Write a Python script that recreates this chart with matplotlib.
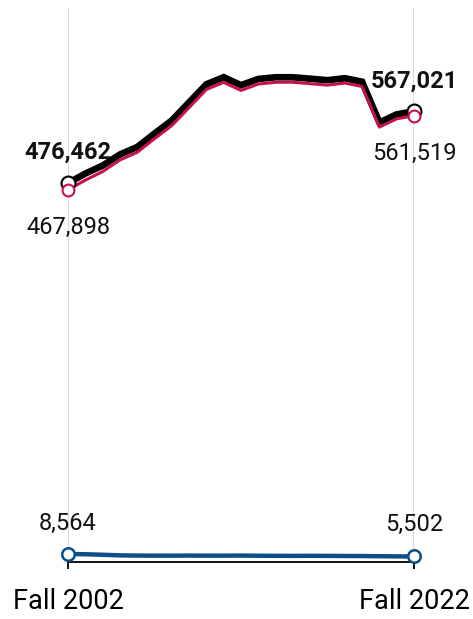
import matplotlib
matplotlib.use("Agg")
import matplotlib.pyplot as plt
import matplotlib.patheffects as pe

# data
years = list(range(2002, 2023))
total = [476462, 488500, 498600, 512600, 522000, 539000, 555600, 578400,
         601200, 610100, 600000, 607900, 610000, 610000, 608200, 606300,
         608800, 604400, 553000, 563200, 567021]
blue_vals = [8564, 8300, 7600, 6900, 6600, 6500, 6500, 6600, 6500, 6500,
             6600, 6400, 6300, 6200, 6300, 6200, 6100, 6000, 5800, 5600, 5502]
crimson_vals = [t - b for t, b in zip(total, blue_vals)]

tick_years = [2002, 2022]
tick_labels = ["Fall 2002", "Fall 2022"]

BLACK = "#000000"
CRIMSON = "#c8104c"
BLUE = "#0b4f86"

plt.rcParams['font.family'] = ['Roboto', 'DejaVu Sans']

fig = plt.figure(figsize=(4.73, 6.19), dpi=100)
ax = fig.add_axes([68 / 473, 1 - 562 / 619, (414 - 68) / 473, (562 - 8) / 619])

ax.set_xlim(2002, 2022)
ax.set_ylim(-1500, 697400)

for s in ["top", "left", "right"]:
    ax.spines[s].set_visible(False)
ax.spines["bottom"].set_linewidth(1.3)
ax.spines["bottom"].set_zorder(2)

ax.set_yticks([])
ax.set_xticks(tick_years)
ax.set_xticklabels(tick_labels, fontsize=19.5)
ax.tick_params(axis="x", length=5, width=1.3, pad=14)
ax.grid(axis="x", color="#d9d9d9", linewidth=1.6, zorder=0)

halo = [pe.Stroke(linewidth=5, foreground="white"), pe.Normal()]

ax.plot(years, total, color=BLACK, lw=4.8, solid_joinstyle="miter", zorder=3)
ax.plot(years, crimson_vals, color=CRIMSON, lw=2.2, zorder=4)
ax.plot(years, blue_vals, color=BLUE, lw=3.2, zorder=4, path_effects=halo)

# end markers
ends = [0, -1]
ax.plot([years[i] for i in ends], [total[i] for i in ends], "o", ms=10,
        mfc="white", mec=BLACK, mew=1.5, zorder=5, clip_on=False)
ax.plot([years[i] for i in ends], [crimson_vals[i] for i in ends], "o", ms=8.5,
        mfc="white", mec=CRIMSON, mew=1.5, zorder=6, clip_on=False)
ax.plot([years[i] for i in ends], [blue_vals[i] for i in ends], "o", ms=9,
        mfc="white", mec=BLUE, mew=1.8, zorder=6, clip_on=False)

def label(x, y, text, dy, bold=False):
    ax.annotate(text, xy=(x, y), xytext=(0, dy), textcoords="offset points",
                ha="center", va="center", fontsize=17,
                fontweight="bold" if bold else "normal", color="#111111",
                annotation_clip=False, zorder=7)

label(years[0], total[0], f"{total[0]:,}", 22.5, bold=True)
label(years[-1], total[-1], f"{total[-1]:,}", 22, bold=True)
label(years[0], crimson_vals[0], f"{crimson_vals[0]:,}", -27)
label(years[-1], crimson_vals[-1], f"{crimson_vals[-1]:,}", -27)
label(years[0], blue_vals[0], f"{blue_vals[0]:,}", 22)
label(years[-1], blue_vals[-1], f"{blue_vals[-1]:,}", 23)

fig.savefig("out.png", dpi=100)
